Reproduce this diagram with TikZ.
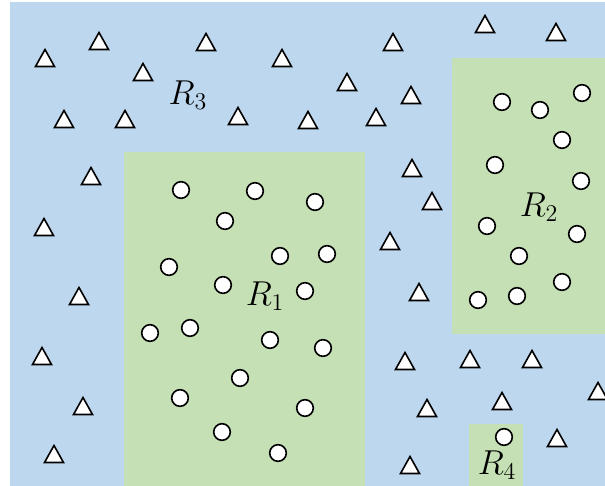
\documentclass[tikz,border=0pt]{standalone}
\begin{document}
\begin{tikzpicture}[x=0.5pt,y=-0.5pt,
  bluefill/.style={fill={rgb,255:red,189;green,215;blue,238}},
  greenfill/.style={fill={rgb,255:red,197;green,224;blue,180}},
  dot/.style={draw=black,fill=white,line width=0.8pt},
  lab/.style={font=\fontsize{16.5}{19}\selectfont,inner sep=0pt}]
\useasboundingbox (0,0) rectangle (605,486);
\fill[bluefill] (10,2) rectangle (605,486);
\fill[greenfill] (123.5,152) rectangle (365,486);
\fill[greenfill] (452,58) rectangle (605,334);
\fill[greenfill] (468.5,424) rectangle (522.5,486);
% triangles
\foreach \x/\y in {45/58,99/41,143/72,206/42,282/58,347/82,393/42,411/95,485/24,556/32,
  64/119,125/119,238/116,308/120,376/117,91/176,412/168,432/201,44/227,390/241,
  79/296,419/292,42/356,405/361,470/359,532/359,598/391,83/406,427/408,502/401,
  54/454,410/465,557/438}
  \draw[dot,line join=miter] (\x-9.5,\y+8.5) -- (\x+9.5,\y+8.5) -- (\x,\y-8.5) -- cycle;
% circles
\foreach \x/\y in {181/190,255/191,315/202,225/221,169/267,280/256,327/254,223/285,305/291,
  150/333,190/328,270/340,323/348,240/378,180/398,305/408,222/432,278/453,
  502/102,540/110,582/93,562/140,495/165,581/181,487/226,577/234,519/256,478/300,517/296,562/282,
  504/437}
  \draw[dot] (\x,\y) circle[radius=8.3];
\node[lab] (r1) at (265,296) {$R_1$};
\node[lab] (r2) at (539,207) {$R_2$};
\node[lab] (r3) at (188,95) {$R_3$};
\node[lab] (r4) at (497,465) {$R_4$};
\end{tikzpicture}
\end{document}
